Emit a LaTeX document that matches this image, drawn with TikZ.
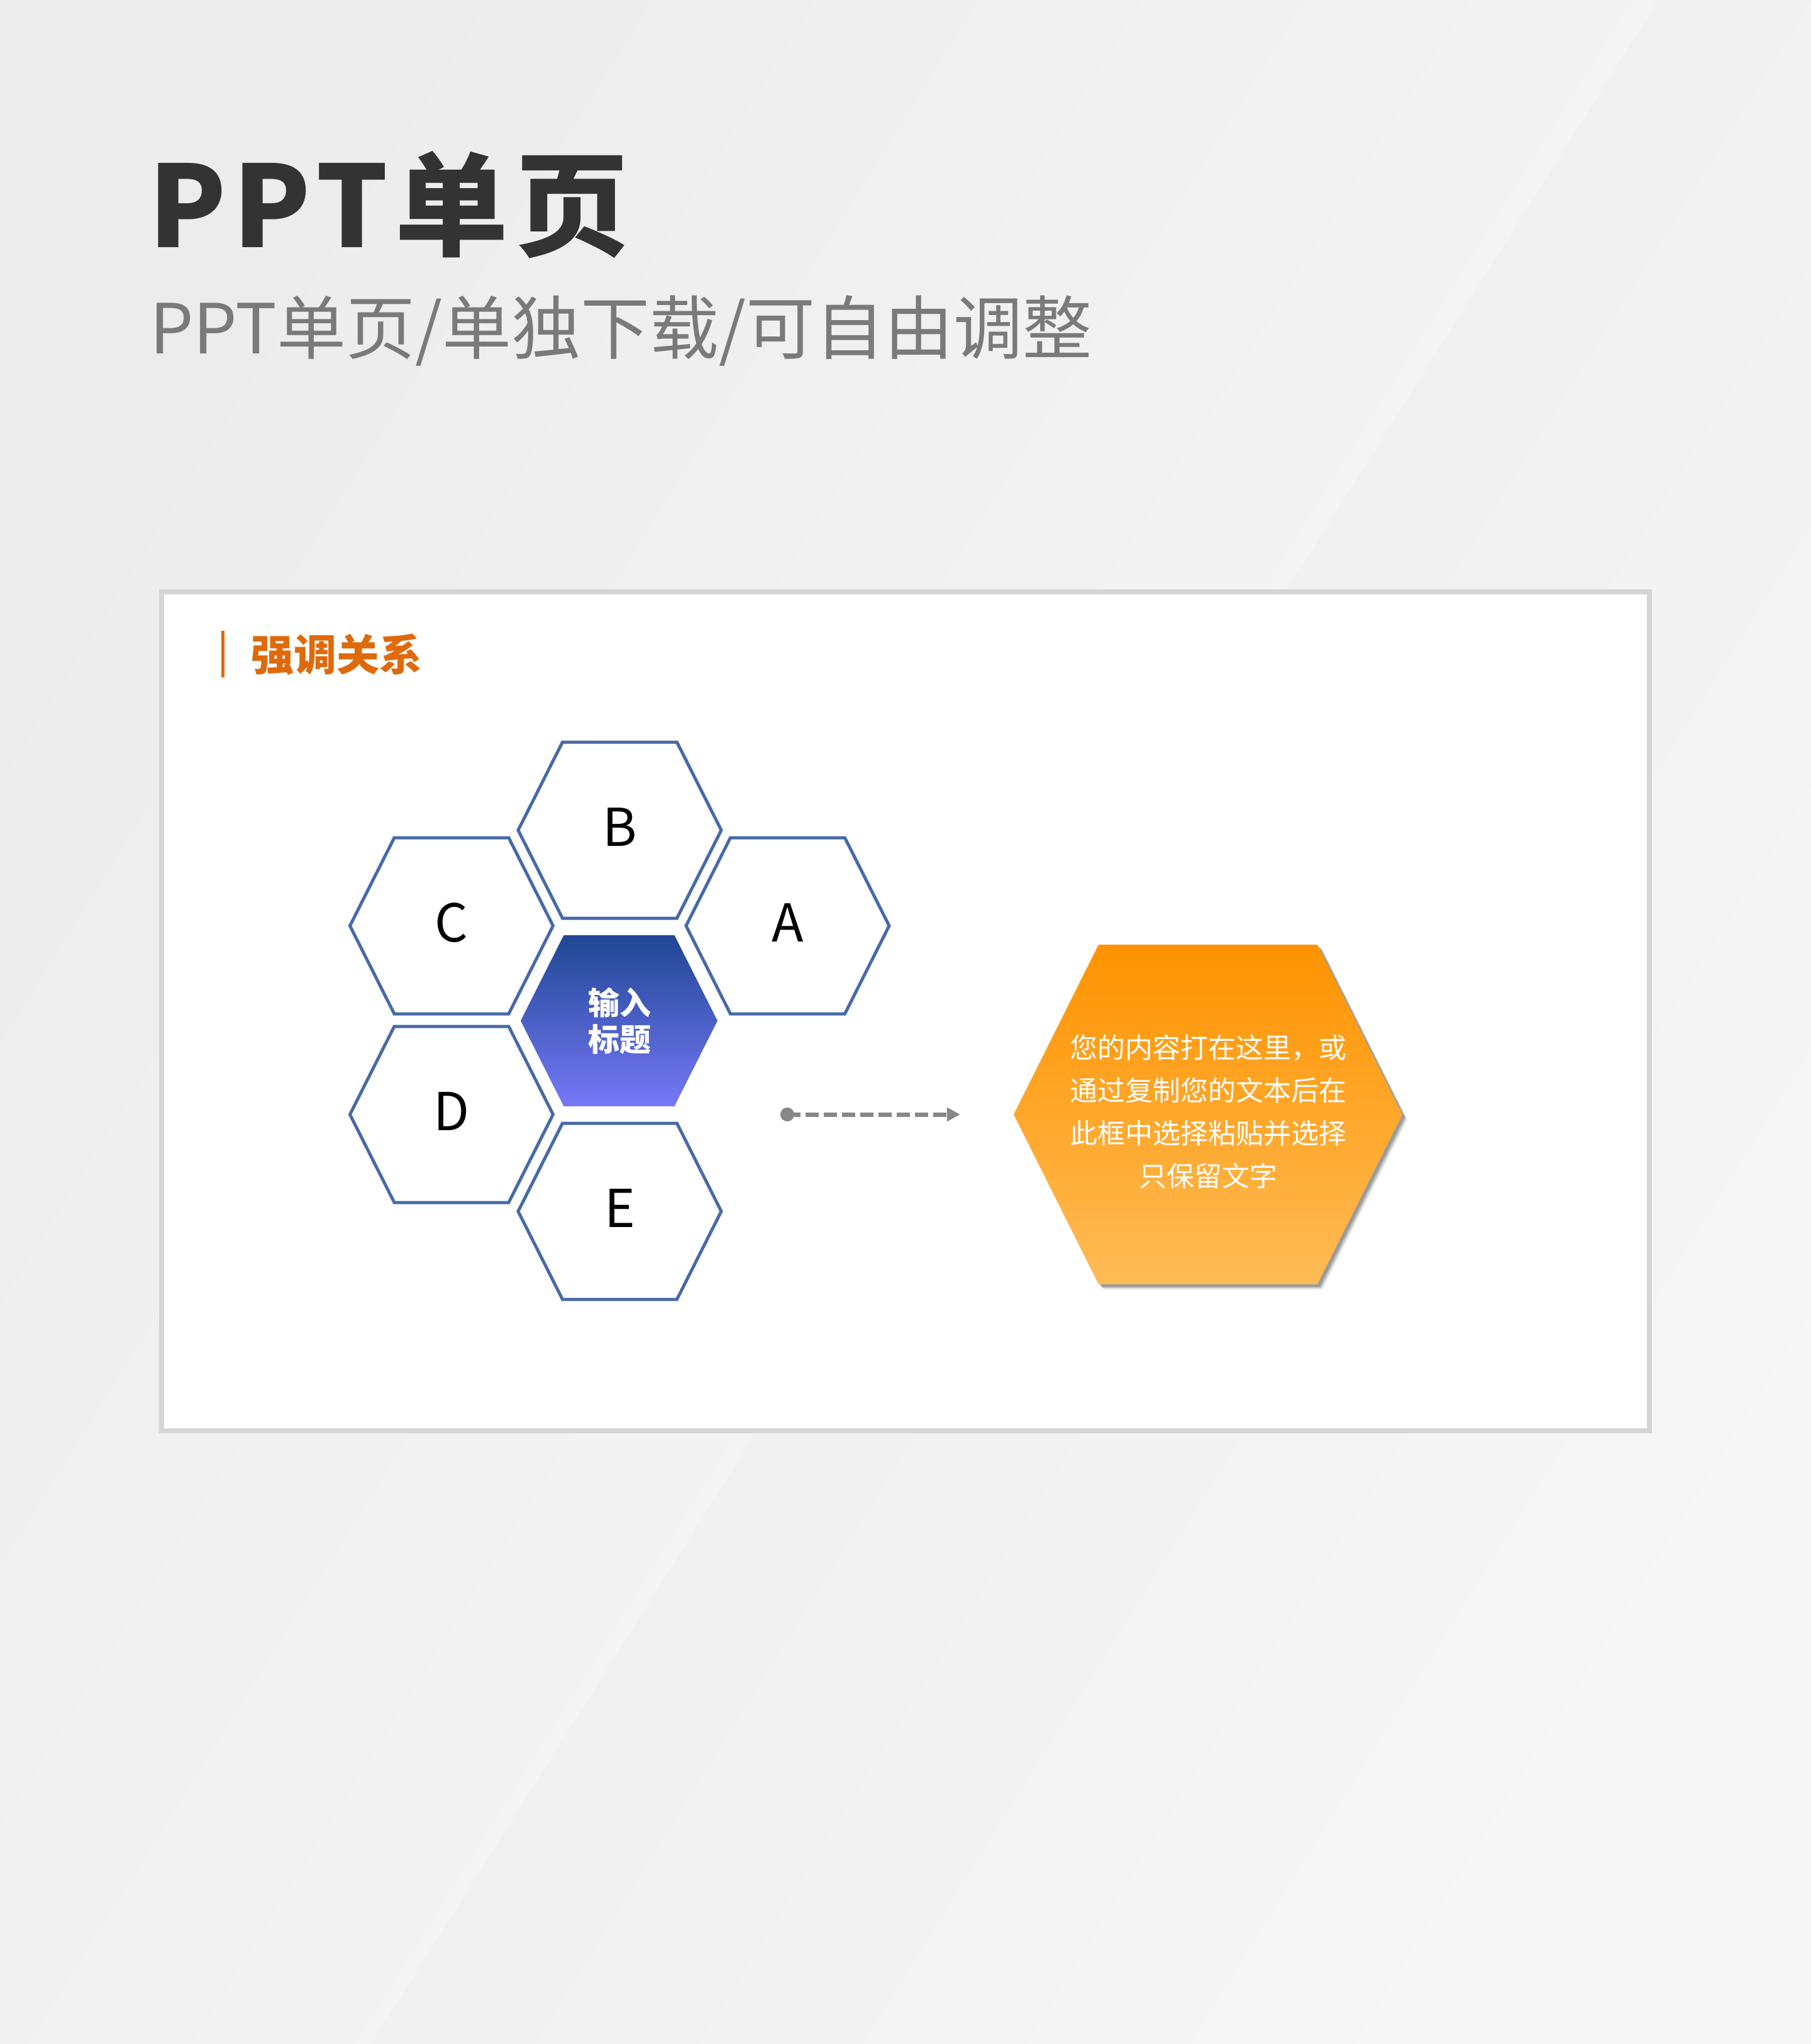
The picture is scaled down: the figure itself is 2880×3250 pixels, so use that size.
\documentclass[tikz,border=0pt]{standalone}
\usepackage{fontspec}
\usetikzlibrary{arrows.meta}
\newfontfamily\cjk{Noto Sans CJK SC}
\definecolor{titledark}{HTML}{333333}
\definecolor{subgray}{HTML}{7A7A7A}
\definecolor{cardline}{HTML}{D5D5D5}
\definecolor{secorange}{HTML}{DF6A0C}
\definecolor{hexblue}{HTML}{476AA7}
\definecolor{ctrtop}{HTML}{1F4793}
\definecolor{ctrbot}{HTML}{7678F7}
\definecolor{ortop}{HTML}{FF9300}
\definecolor{orbot}{HTML}{FFBB55}
\definecolor{arrowgray}{HTML}{878787}
\definecolor{bgA}{HTML}{ECECEC}
\definecolor{bgB}{HTML}{F9F9F9}
\definecolor{bgC}{HTML}{EBEBEB}
\definecolor{bgD}{HTML}{F7F7F7}
% hexagon path: cx, cy, half width, half top edge, half height
\newcommand\hexpath[5]{({#1-#3},{#2}) -- ({#1-#4},{#2-#5}) -- ({#1+#4},{#2-#5}) -- ({#1+#3},{#2}) -- ({#1+#4},{#2+#5}) -- ({#1-#4},{#2+#5}) -- cycle}
\tikzset{
  hexline/.style={draw=hexblue, line width=5pt, line join=miter, fill=white},
  hexlabel/.style={inner sep=0pt, font=\cjk\fontsize{83}{83}\selectfont, text=black},
  ctrlabel/.style={inner sep=0pt, align=center, font=\cjk\bfseries\fontsize{50}{58}\selectfont, text=white},
  bodytext/.style={inner sep=0pt, align=center, font=\cjk\fontsize{44}{68}\selectfont, text=white},
  dasharrow/.style={draw=arrowgray, line width=7pt, dash pattern=on 21pt off 8pt, -{Triangle[length=21pt,width=21pt]}},
}
\begin{document}
\begin{tikzpicture}[x=1pt,y=-1pt]
\useasboundingbox (0,0) rectangle (2880,3250);
% background
\shade[left color=bgA, right color=bgB, shading angle=58] (0,0) -- (2637,0) -- (590,3250) -- (0,3250) -- cycle;
\shade[left color=bgC, right color=bgD, shading angle=58] (2637,0) -- (2880,0) -- (2880,3250) -- (590,3250) -- cycle;
% titles
\node[anchor=base west, inner sep=0pt, text=titledark] (title) at (236,393)
  {\cjk\bfseries\addfontfeature{LetterSpace=6}\fontsize{180}{180}\selectfont PPT单页};
\node[anchor=base west, inner sep=0pt, text=subgray] (subtitle) at (238,562)
  {\cjk\fontsize{110}{110}\selectfont PPT单页/单独下载/可自由调整};
% card
\draw[line width=8pt, draw=cardline, fill=white] (257,941) rectangle (2623,2275);
% section title
\draw[secorange, line width=5pt] (354,1003) -- (354,1077);
\node[anchor=west, inner sep=0pt, text=secorange] (section) at (399,1041)
  {\cjk\bfseries\fontsize{68}{68}\selectfont 强调关系};
% honeycomb
\path[hexline] \hexpath{985.5}{1320}{161.5}{91}{140};
\path[hexline] \hexpath{718}{1472}{161.5}{91}{140};
\path[hexline] \hexpath{1252.5}{1472}{161.5}{91}{140};
\path[hexline] \hexpath{718}{1772}{161.5}{91}{140};
\path[hexline] \hexpath{985.5}{1926}{161.5}{91}{140};
\shade[top color=ctrtop, bottom color=ctrbot] \hexpath{984.5}{1623}{156.5}{88}{136};
\node[hexlabel] (B) at (985.5,1315) {B};
\node[hexlabel] (C) at (718,1467) {C};
\node[hexlabel] (A) at (1252.5,1467) {A};
\node[hexlabel] (D) at (718,1767) {D};
\node[hexlabel] (E) at (985.5,1921) {E};
\node[ctrlabel] (ctr) at (985,1623) {输入\\标题};
% arrow
\coordinate (arrS) at (1252,1772);
\coordinate (arrE) at (1527,1772);
\fill[arrowgray] (arrS) circle[radius=11pt];
\draw[dasharrow] (arrS) -- (arrE);
% orange hexagon with shadow
\fill[black, opacity=0.10] \hexpath{1929}{1780}{309}{174}{270};
\fill[black, opacity=0.15] \hexpath{1927}{1778}{309}{174}{270};
\fill[black, opacity=0.20] \hexpath{1925}{1776}{309}{174}{270};
\shade[top color=ortop, bottom color=orbot] \hexpath{1921}{1772}{309}{174}{270};
\node[bodytext] (body) at (1921,1768)
  {您的内容打在这里，或\\通过复制您的文本后在\\此框中选择粘贴并选择\\只保留文字};
\end{tikzpicture}
\end{document}
